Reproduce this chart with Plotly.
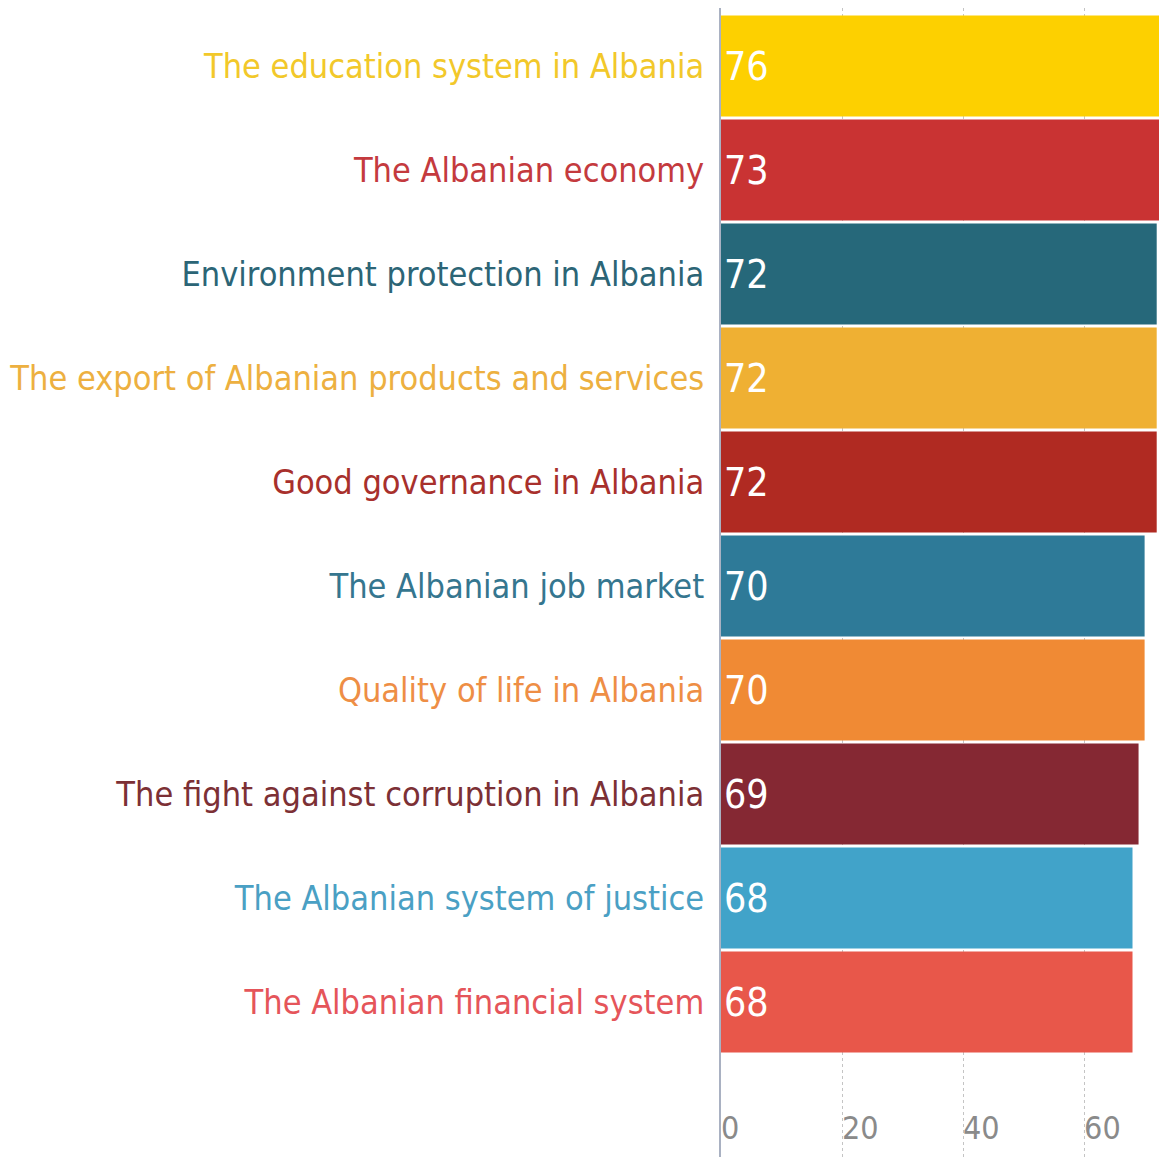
import plotly.graph_objects as go

FONT = "Liberation Sans Narrow, DejaVu Sans Condensed, Arial Narrow, sans-serif"

# dados
topics = [
    "The education system in Albania",
    "The Albanian economy",
    "Environment protection in Albania",
    "The export of Albanian products and services",
    "Good governance in Albania",
    "The Albanian job market",
    "Quality of life in Albania",
    "The fight against corruption in Albania",
    "The Albanian system of justice",
    "The Albanian financial system",
]
scores = [76, 73, 72, 72, 72, 70, 70, 69, 68, 68]
bar_colors = [
    "#FDD000", "#C93333", "#26687A", "#EFB033", "#B02A22",
    "#2E7A98", "#F08A34", "#852833", "#41A3C9", "#E8574A",
]
label_colors = [
    "#F2C82A", "#C43A3E", "#2C6576", "#EDB040", "#A8302C",
    "#35768F", "#EE8E45", "#7C3035", "#4AA0C4", "#E5555A",
]
x_ticks = [0, 20, 40, 60]

ticktext = [f'<span style="color:{c}">{t}</span>' for t, c in zip(topics, label_colors)]

fig = go.Figure(go.Bar(
    x=scores,
    y=topics,
    orientation="h",
    marker=dict(color=bar_colors, line=dict(width=0)),
    text=[str(v) for v in scores],
    textposition="inside",
    insidetextanchor="start",
    textfont=dict(color="white", size=39, family=FONT),
    cliponaxis=True,
    hoverinfo="skip",
))

# a página tem 8px de margem no body
fig.update_layout(
    width=1159,
    height=1149,
    margin=dict(l=713, r=0, t=0, b=0),
    paper_bgcolor="white",
    plot_bgcolor="white",
    bargap=0.03,
    showlegend=False,
    font=dict(family=FONT),
)

fig.update_xaxes(
    range=[0, 73.7],
    tickvals=x_ticks,
    ticktext=[str(v) for v in x_ticks],
    ticklabelposition="inside right",
    ticklabelstandoff=6,
    tickfont=dict(size=32, color="#8a8a8a", family=FONT),
    showgrid=True,
    gridcolor="#c4c4c4",
    griddash="dot",
    gridwidth=1,
    zeroline=False,
    showline=False,
    ticks="",
    automargin=False,
)

fig.update_yaxes(
    type="category",
    categoryorder="array",
    categoryarray=topics,
    range=[10.49, -0.558],
    tickvals=topics,
    ticktext=ticktext,
    tickfont=dict(size=34, family=FONT),
    ticks="",
    ticklabelstandoff=8,
    showline=True,
    linecolor="#a9b1c2",
    linewidth=2,
    showgrid=False,
    automargin=False,
)

fig.write_html("out.html")
